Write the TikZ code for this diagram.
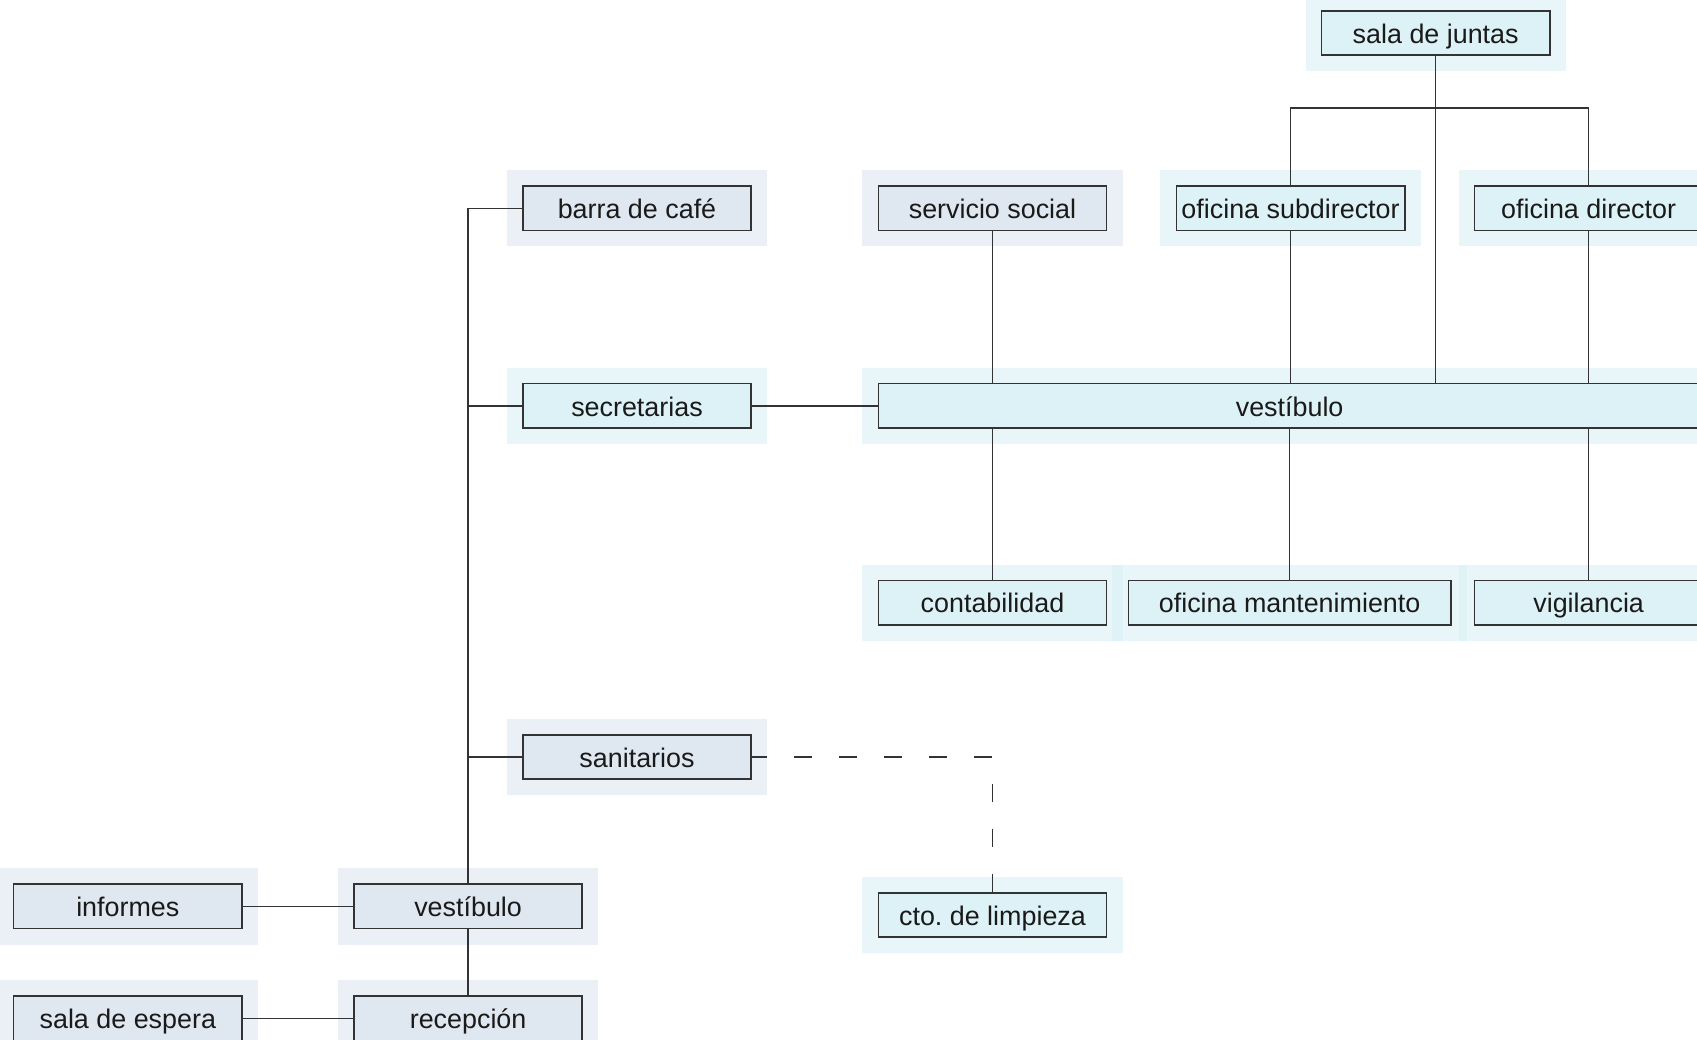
\documentclass[tikz,border=0pt]{standalone}
\usepackage{fontspec}
\setmainfont{Liberation Sans}
\usetikzlibrary{positioning,calc}
\definecolor{txt}{HTML}{1A1A1A}
\definecolor{lnB}{HTML}{333333}
\definecolor{gyF}{HTML}{DFE7F0}
\definecolor{gyH}{HTML}{D6E1EB}
\definecolor{cyF}{HTML}{DDF2F6}
\definecolor{cyH}{HTML}{D4EEF3}

\begin{document}
\begin{tikzpicture}[x=1mm,y=-1mm,
  font=\fontsize{7.65}{9}\selectfont,text=txt,
  link/.style={draw=lnB,line width=0.4pt},
  base/.style={draw=lnB,line width=0.45pt,align=center,inner sep=0pt,text height=2.3mm,text depth=0.26mm,minimum width=22.83mm,minimum height=4.44mm},
  room/.style={base,fill=gyF,preaction={draw=gyH,line width=3.2mm,rounded corners=1.5mm,draw opacity=.5}},
  area/.style={base,fill=cyF,preaction={draw=cyH,line width=3.2mm,rounded corners=1.5mm,draw opacity=.5}},
  ]
\useasboundingbox (0,0) rectangle (169.7,104);

% ---- upper block ----
\node[room] (bar) at (63.7,20.83) {barra de café};
\node[room,right=12.56mm of bar] (soc) {servicio social};
\node[area,right=6.82mm of soc] (sub) {oficina subdirector};
\node[area,right=6.82mm of sub] (dir) {oficina director};
\node[area] (jun) at (143.57,3.3) {sala de juntas};
\node[area,below=15.16mm of bar] (sec) {secretarias};
\node[area,minimum width=82.26mm,right=12.56mm of sec] (hall) {vestíbulo};
\node[area,below=34.85mm of soc] (cont) {contabilidad};
\node[area,minimum width=32.25mm] (mant) at (hall|-cont) {oficina mantenimiento};
\node[area,below=34.85mm of dir] (vig) {vigilancia};

% ---- lower block ----
\node[room,below=30.52mm of sec] (san) {sanitarios};
\node[area,below=26.63mm of cont] (cto) {cto.\ de limpieza};
\node[room] (lob) at (46.81,90.64) {vestíbulo};
\node[room,left=11.04mm of lob] (inf) {informes};
\node[room,below=6.6mm of lob] (rec) {recepción};
\node[room,left=11.04mm of rec] (esp) {sala de espera};

% ---- links ----
\draw[link] (lob.north) |- (bar.west);
\draw[link] (lob.north|-sec.west) -- (sec.west);
\draw[link] (lob.north|-san.west) -- (san.west);
\draw[link] (lob) -- (rec);
\draw[link] (inf) -- (lob);
\draw[link] (esp) -- (rec);
\draw[link] (sec) -- (hall);
\draw[link] (soc) -- (soc|-hall.north);
\draw[link] (sub) -- (sub|-hall.north);
\draw[link] (dir) -- (dir|-hall.north);
\draw[link] (jun) -- (jun|-hall.north);
\coordinate (split) at ($(jun.south)+(0,5.19)$);
\draw[link] (sub.north) |- (split) -| (dir.north);
\draw[link] (cont) -- (cont|-hall.south);
\draw[link] (mant) -- (mant|-hall.south);
\draw[link] (vig) -- (vig|-hall.south);
\draw[link,dash pattern=on 1.8mm off 2.7mm,dash phase=0.3mm] (san.east) -| (cto.north);

\end{tikzpicture}
\end{document}
